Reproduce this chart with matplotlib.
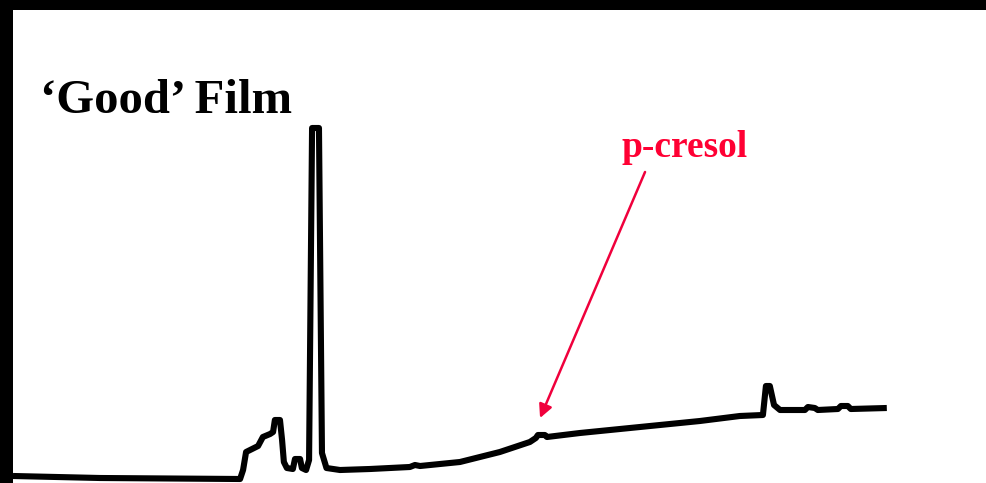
import numpy as np
import matplotlib.pyplot as plt

# Chromatogram of the 'good' film: retention time (min) vs detector signal
time = [0.00, 2.90, 7.57, 7.67, 7.77, 7.97, 8.17, 8.33, 8.57, 8.67, 8.73, 8.90,
        8.97, 9.03, 9.13, 9.33, 9.40, 9.57, 9.63, 9.77, 9.87, 9.97, 10.20, 10.30,
        10.45, 10.90, 11.90, 13.23, 13.40, 13.57, 14.90, 16.23, 17.23, 17.43,
        17.50, 17.73, 17.80, 18.90, 20.90, 22.90, 24.23, 25.00, 25.10, 25.23,
        25.37, 25.57, 26.40, 26.50, 26.73, 26.83, 27.50, 27.60, 27.83, 27.93, 29.13]
signal = [7, 5, 4, 13, 31, 34, 37, 46, 49, 51, 63, 63,
          43, 21, 15, 14, 24, 24, 15, 13, 23, 355, 355, 30,
          15, 13, 14, 16, 18, 17, 21, 31, 41, 45,
          48, 48, 46, 50, 56, 62, 67, 68, 97, 97,
          78, 73, 73, 76, 75, 73, 74, 77, 77, 74, 75]

# p-cresol peak
peak_time = 17.57
peak_signal = 65

fig = plt.figure(figsize=(9.87, 4.83), dpi=100, facecolor='black')
ax = fig.add_axes([13 / 987, 0, 974 / 987, 473 / 483], facecolor='white')

ax.plot(time, signal, color='black', lw=4.4, solid_joinstyle='round',
        solid_capstyle='butt')

ax.set_xlim(0, 32.47)
ax.set_ylim(0, 473)
for spine in ax.spines.values():
    spine.set_visible(False)
ax.set_xticks([])
ax.set_yticks([])

ax.annotate('', xy=(peak_time, peak_signal), xytext=(21.07, 311),
            arrowprops=dict(arrowstyle='-|>', color='#f0003c', lw=1.8,
                            mutation_scale=20, shrinkA=0, shrinkB=0))
ax.text(22.4, 326, 'p-cresol', color='#ff0033', fontsize=27,
        fontweight='bold', family='Liberation Serif', ha='center', va='baseline')

fig.text(40 / 987, 1 - 113 / 483, '\u2018Good\u2019 Film', color='black',
         fontsize=35, fontweight='bold', family='Liberation Serif',
         ha='left', va='baseline')

fig.savefig('out.png', dpi=100, facecolor=fig.get_facecolor())
